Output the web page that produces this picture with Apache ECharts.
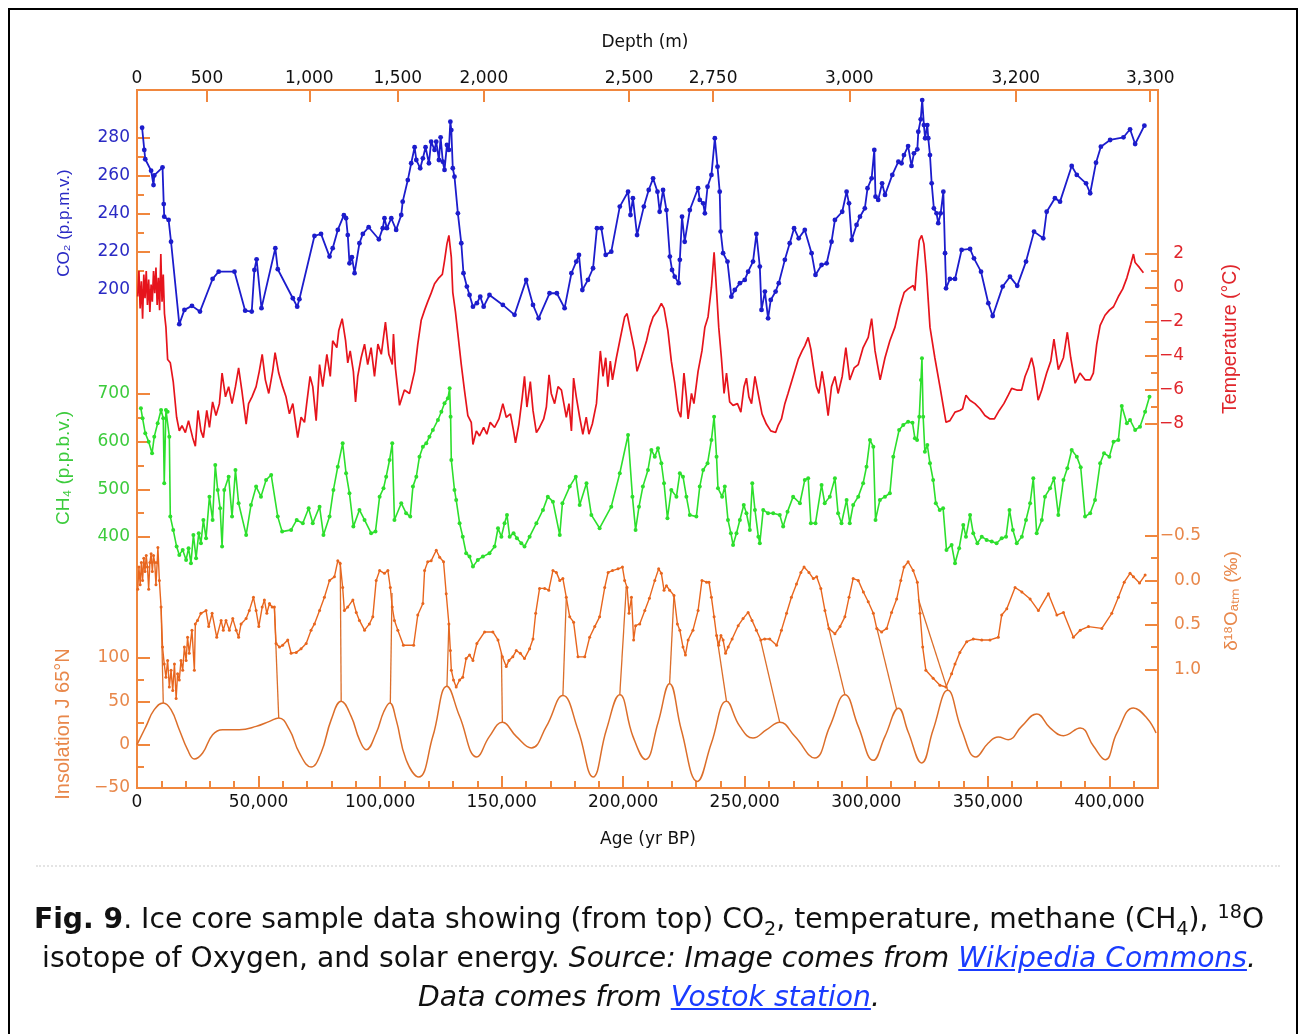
<!DOCTYPE html>
<html><head><meta charset="utf-8">
<script src="https://cdn.jsdelivr.net/npm/echarts@6/dist/echarts.min.js"></script>
<style>
html,body{margin:0;padding:0;background:#fff;}
#page{position:relative;width:1298px;height:1034px;overflow:hidden;background:#fff;}
#frame{position:absolute;left:8px;top:8px;width:1290px;height:1040px;border:2px solid #000;box-sizing:border-box;}
#chart{position:absolute;left:0;top:0;width:1298px;height:1034px;}
#sep{position:absolute;left:36px;top:865px;width:1244px;border-top:2px dotted #e4e4e4;}
#caption{position:absolute;left:0;top:899px;width:1298px;text-align:center;font-family:'DejaVu Sans';font-size:28.2px;line-height:39px;color:#111;}
#caption a{color:#1a3cff;text-decoration:underline;}
#caption sub,#caption sup{font-size:0.68em;line-height:0;}
</style></head>
<body>
<div id="page">
<div id="frame"></div>
<div id="chart"></div>
<div id="sep"></div>
<div id="caption"><b>Fig. 9</b>. Ice core sample data showing (from top) CO<sub>2</sub>, temperature, methane (CH<sub>4</sub>), <sup>18</sup>O<br>isotope of Oxygen, and solar energy. <i>Source: Image comes from <a>Wikipedia Commons</a>.</i><br><i>Data comes from <a>Vostok station</a>.</i></div>
</div>
<script>
// ---- data: [age (kyr BP), value] ----
const co2Data = [[2.1,285],[3.0,273.4],[3.4,268.5],[5.8,262.5],[6.8,255],[7.1,260],[10.5,264.3],[11.0,245],[11.2,238.4],[13.0,236.7],[14.0,225.3],[17.4,182.1],[19.5,189.6],[22.6,191.7],[25.9,188.7],[31.1,205.8],[33.6,209.6],[40.1,209.6],[44.5,189.2],[47.2,188.7],[48.3,210.5],[49.2,216.1],[51.2,190.5],[56.9,221.9],[57.9,210.9],[64.1,195.7],[65.9,191.3],[66.8,195.2],[73.0,228.3],[75.7,229.4],[79.2,217.5],[80.5,221.9],[82.6,231.5],[85.1,239.2],[86.0,237.6],[86.7,228.8],[87.4,214],[88.4,217.2],[89.5,208.8],[91.5,224.5],[92.9,229.4],[95.3,232.9],[99.5,226.6],[101.1,232.4],[101.8,237.6],[102.8,232.4],[104.6,237.6],[106.6,231.5],[108.7,239.3],[109.3,246.3],[111.4,257.6],[112.8,266.4],[114.2,274.8],[114.9,268.1],[116.5,263.8],[117.6,269],[118.7,274.8],[120.1,266.4],[121.0,277.7],[122.4,273.4],[123.1,277.7],[124.2,268.1],[124.9,280],[125.8,267.2],[126.5,262.9],[127.5,276],[128.3,273.4],[128.9,288.2],[129.3,283.8],[129.9,263.8],[130.6,259.4],[132.0,240.2],[133.4,224.5],[134.3,208.8],[135.7,201.8],[136.8,197.4],[138.2,191.3],[139.8,193.1],[141.2,196.5],[142.6,191.3],[145.0,197.4],[150.5,192.2],[155.3,187],[160.1,205.3],[162.9,192.2],[165.2,185.2],[169.7,198.3],[172.7,198.3],[175.9,190.5],[178.7,208.8],[180.7,214.9],[181.8,218.4],[183.2,200],[185.5,205.3],[187.6,211.4],[189.2,232.4],[191.0,232.4],[192.8,218.4],[195.1,220.1],[198.6,243.7],[202.0,251.5],[203.0,239.3],[204.0,248.1],[205.7,228.8],[208.5,243.7],[210.5,252.4],[212.3,258.5],[214.1,251.5],[215.0,241],[216.4,252.4],[217.8,241.9],[219.2,217.5],[220.1,210.5],[221.2,207],[222.8,203.6],[223.3,215.8],[224.2,238.4],[225.3,225.3],[227.4,241.9],[230.8,253.3],[231.5,247.2],[232.9,245.4],[233.6,240.2],[234.7,254.1],[236.3,260.3],[237.7,279.5],[238.8,264.6],[239.7,251.5],[240.1,230.6],[241.1,219.3],[242.9,214.9],[244.5,196.5],[245.9,200],[248.0,203.6],[250.0,205.3],[251.4,209.6],[253.4,214.9],[254.8,229.4],[256.2,212.3],[256.9,189.6],[258.3,199.2],[259.6,185.2],[260.7,194.8],[262.7,199.2],[264.0,203.6],[266.5,215.8],[268.5,224.5],[270.3,232.4],[272.2,227.1],[274.7,231.5],[277.5,219.3],[279.1,207.9],[281.6,213.1],[283.7,214],[285.7,225.3],[287.1,236.7],[290.1,241],[291.9,251.5],[292.9,245.4],[294.0,226.2],[296.0,234.1],[297.4,238.4],[299.4,242.8],[300.5,253.3],[302.2,258.5],[303.3,273.4],[303.8,248.9],[304.9,247.2],[306.5,255.9],[307.7,249.8],[310.7,260.3],[313.2,267.2],[314.5,266.4],[315.5,270.7],[317.2,275.4],[318.6,265],[319.6,271.6],[321.0,273.7],[321.4,282.9],[322.4,289.4],[323.0,299.5],[323.7,286.4],[324.2,279.5],[325.1,286.4],[325.5,279.5],[326.2,270.7],[326.9,255.9],[327.8,242.8],[328.9,240.2],[329.6,235],[330.6,240.2],[331.7,251.5],[332.4,219.3],[332.8,200.9],[334.4,205.8],[336.5,205.8],[339.2,221],[342.7,221.5],[344.3,216.6],[347.2,209.6],[350.2,193.1],[352.0,186.4],[356.1,201.8],[359.1,207],[362.1,202.2],[365.7,214.9],[369.0,230.6],[372.8,227.1],[374.2,241],[377.6,248.1],[379.7,246.3],[384.5,265],[386.6,260.3],[390.4,255.9],[392.1,250.7],[394.5,266.7],[396.5,275.1],[400.3,278.6],[405.8,280],[408.5,284.2],[410.6,276.5],[414.4,286.1]];

const tempData = [[0.3,-0.5],[0.8,1.0],[1.3,-1.2],[1.8,0.4],[2.3,-1.8],[2.8,0.8],[3.3,-0.6],[3.8,1.0],[4.3,-1.0],[4.8,0.5],[5.3,-1.4],[5.8,0.2],[6.3,-0.8],[6.8,1.0],[7.3,-0.3],[7.8,1.2],[8.3,-1.0],[8.8,0.6],[9.3,-1.3],[9.8,2.0],[10.3,-0.8],[10.8,0.8],[11.3,-1.5],[11.9,-2.3],[12.6,-4.2],[13.7,-4.4],[14.9,-5.5],[16.3,-7.6],[17.4,-8.4],[18.5,-8.1],[19.9,-8.5],[21.2,-7.8],[22.9,-8.8],[24.0,-9.3],[25.1,-7.2],[26.3,-8.4],[27.3,-8.8],[28.7,-7.2],[29.8,-8.2],[31.1,-6.7],[32.5,-7.5],[33.9,-6.8],[35.0,-5.0],[36.4,-6.4],[37.7,-5.8],[39.1,-6.8],[40.5,-5.8],[41.8,-4.7],[43.2,-6.1],[44.9,-8.0],[45.9,-6.8],[47.3,-6.4],[49.0,-5.8],[50.3,-4.9],[51.5,-3.9],[52.8,-5.4],[54.2,-6.2],[55.8,-4.9],[56.8,-3.8],[58.3,-5.0],[59.9,-5.8],[61.3,-6.4],[62.7,-7.4],[64.1,-6.8],[65.5,-8.2],[66.1,-8.8],[67.5,-7.6],[68.9,-7.9],[69.8,-6.8],[71.2,-5.2],[72.3,-5.8],[73.7,-7.8],[75.1,-4.5],[76.4,-5.8],[78.1,-3.9],[79.5,-5.2],[80.5,-3.1],[82.2,-3.5],[83.0,-2.5],[84.4,-1.8],[85.8,-3.1],[86.7,-4.4],[87.7,-3.7],[89.0,-4.9],[89.9,-6.7],[90.8,-5.2],[92.2,-4.1],[93.6,-3.3],[94.9,-4.5],[96.3,-3.5],[97.7,-5.2],[99.1,-3.3],[100.5,-3.9],[102.2,-2.0],[103.6,-3.9],[104.1,-4.1],[105.0,-4.5],[105.5,-2.7],[106.3,-4.7],[108.0,-6.9],[110.0,-6.0],[112.1,-6.2],[114.2,-4.9],[115.5,-3.3],[116.9,-1.9],[118.3,-1.3],[119.6,-0.8],[121.0,-0.3],[122.4,0.25],[124.2,0.6],[125.6,0.8],[126.5,1.6],[127.5,2.6],[128.3,3.1],[129.3,1.8],[129.9,-0.25],[131.0,-1.4],[132.0,-2.7],[133.4,-4.5],[134.7,-6.0],[136.1,-7.5],[137.5,-7.9],[138.2,-9.2],[139.6,-8.4],[140.9,-8.7],[142.6,-8.2],[143.9,-8.6],[145.3,-7.9],[147.1,-8.2],[148.9,-7.7],[150.5,-6.8],[151.9,-7.6],[153.6,-7.4],[154.9,-8.4],[155.7,-9.1],[157.1,-8.0],[158.5,-6.4],[159.4,-5.2],[160.4,-7.0],[161.8,-5.5],[162.9,-7.2],[164.3,-8.5],[165.6,-8.2],[167.3,-7.7],[168.4,-7.0],[169.5,-5.1],[170.4,-6.2],[171.8,-6.8],[173.2,-5.8],[174.6,-6.0],[175.6,-6.8],[176.6,-7.6],[177.7,-6.8],[178.7,-8.4],[179.6,-5.3],[180.7,-6.4],[182.1,-7.6],[183.4,-8.6],[184.8,-7.6],[185.9,-8.6],[187.3,-8.0],[189.0,-6.8],[190.6,-3.7],[191.7,-5.2],[192.8,-4.1],[193.7,-5.8],[194.7,-4.3],[195.6,-5.4],[197.2,-4.1],[198.6,-3.1],[200.6,-1.7],[201.6,-1.5],[202.7,-2.3],[204.7,-3.7],[205.7,-4.9],[207.5,-4.1],[209.6,-3.1],[210.9,-2.3],[212.3,-1.7],[214.3,-1.3],[215.7,-0.9],[216.8,-1.2],[218.4,-2.5],[219.8,-4.3],[221.2,-5.6],[222.6,-7.2],[223.7,-7.6],[225.0,-5.0],[226.0,-6.4],[226.7,-7.7],[228.1,-6.2],[229.1,-6.8],[230.8,-4.9],[232.4,-3.7],[233.6,-2.3],[234.9,-1.7],[236.3,0.05],[237.4,2.1],[238.4,-0.15],[239.3,-2.3],[240.4,-4.1],[241.5,-6.2],[242.5,-5.0],[243.8,-6.7],[245.2,-6.9],[247.0,-6.8],[248.4,-7.3],[249.7,-5.8],[250.7,-5.3],[251.7,-6.4],[252.8,-6.8],[254.2,-5.2],[255.5,-6.2],[257.1,-7.4],[258.9,-8.0],[260.7,-8.4],[262.7,-8.5],[263.7,-8.1],[265.1,-7.7],[266.5,-6.8],[267.8,-6.2],[269.9,-5.2],[272.0,-4.2],[273.6,-3.7],[274.7,-3.4],[276.1,-2.9],[277.2,-3.6],[278.1,-4.5],[279.5,-5.8],[280.5,-6.2],[281.8,-4.9],[282.9,-5.9],[284.3,-7.5],[285.7,-5.8],[287.1,-5.2],[288.4,-6.2],[290.1,-5.2],[291.6,-3.5],[293.2,-5.4],[295.0,-4.7],[296.7,-4.5],[298.7,-3.5],[300.8,-2.9],[302.2,-1.8],[303.6,-3.7],[305.7,-5.4],[307.7,-4.1],[309.7,-3.1],[311.8,-2.3],[313.8,-1.1],[315.6,-0.25],[317.2,-0.05],[319.3,0.15],[320.0,-0.15],[320.7,1.2],[321.8,2.8],[322.8,3.1],[323.7,2.6],[324.8,0.8],[326.2,-2.3],[328.2,-4.1],[330.3,-5.8],[332.8,-7.9],[334.4,-7.8],[336.5,-7.3],[338.5,-7.2],[339.6,-7.1],[341.0,-6.3],[342.6,-6.6],[344.7,-6.8],[346.8,-7.1],[348.8,-7.5],[350.9,-7.7],[352.7,-7.7],[354.7,-7.2],[356.6,-6.8],[358.4,-6.3],[359.8,-5.9],[361.9,-6.0],[363.9,-6.0],[365.3,-5.2],[366.7,-4.7],[368.0,-4.1],[369.0,-4.7],[370.7,-6.6],[372.2,-6.0],[374.2,-5.0],[375.9,-4.3],[377.2,-3.0],[379.0,-4.8],[381.1,-4.1],[382.7,-2.6],[384.1,-4.1],[385.9,-5.6],[387.9,-5.0],[390.0,-5.4],[392.1,-5.4],[393.4,-5.0],[394.8,-3.3],[396.2,-2.2],[398.2,-1.6],[400.0,-1.3],[401.7,-1.1],[403.7,-0.5],[405.5,-0.05],[407.2,0.6],[408.8,1.4],[409.9,2.0],[410.6,1.5],[412.4,1.2],[414.0,0.9]];

const ch4Data = [[1.6,670],[2.3,649],[3.4,617.6],[4.8,600],[6.2,575.7],[7.1,610.5],[8.5,638.6],[9.9,666.5],[10.8,649],[11.2,512.8],[11.9,666.5],[12.6,663],[13.3,610.5],[13.7,442.8],[14.9,414.9],[16.3,380],[17.4,362.5],[18.8,373],[20.2,352],[21.2,376.5],[22.2,345],[23.2,404.4],[24.3,355.6],[25.4,408],[26.3,387],[27.3,435.8],[28.4,397.5],[29.8,484.7],[31.1,435.8],[32.2,551],[33.2,498.7],[34.2,460.4],[35.0,380],[35.9,498.7],[37.7,526.6],[39.1,442.8],[40.5,540.7],[41.8,470.9],[44.9,404.4],[46.9,467.3],[49.0,505.7],[51.0,484.7],[53.1,519.7],[55.2,530.2],[57.9,442.8],[59.7,411.3],[63.4,414.9],[65.7,435.8],[68.2,428.9],[70.6,460.4],[72.3,428.9],[75.1,463.7],[76.7,404.4],[79.2,442.8],[80.8,498.7],[82.6,547.6],[84.6,596.6],[86.0,533.8],[87.4,491.8],[89.0,421.8],[91.5,456.8],[93.6,435.8],[96.3,408],[98.1,411.3],[99.8,484.7],[101.4,502.3],[102.5,526.6],[103.9,561.6],[105.0,596.6],[105.9,435.8],[108.7,470.9],[110.7,449.9],[112.4,442.8],[113.5,505.7],[114.9,526.6],[116.2,568.6],[117.6,589.5],[119.0,596.6],[120.3,610.5],[121.7,624.5],[123.8,645.5],[125.2,662.9],[126.5,680.5],[127.9,691],[128.6,712],[129.0,652.4],[129.3,561.6],[130.6,498.7],[131.3,477.8],[132.7,428.9],[134.0,400.8],[135.4,366],[136.8,358.9],[138.2,337.9],[140.2,352],[142.3,358.9],[145.0,366],[147.1,380],[148.5,418.4],[149.9,400.8],[151.2,428.9],[152.2,446.3],[153.3,400.8],[154.9,408],[156.3,397.5],[158.1,387],[159.4,380],[161.5,400.8],[164.3,428.9],[167.0,456.8],[169.0,484.7],[171.1,474.2],[173.9,404.4],[175.0,470.9],[178.0,505.7],[180.5,526.6],[182.1,467.3],[184.9,512.8],[186.9,446.3],[190.3,418.4],[195.1,463.7],[198.6,533.8],[202.0,614],[203.8,484.7],[205.1,414.9],[206.5,463.7],[208.1,505.7],[210.2,540.7],[211.6,582.6],[213.0,568.6],[214.3,586.2],[215.7,554.7],[216.8,512.8],[218.2,439.4],[219.8,498.7],[221.9,484.7],[223.3,533.8],[224.6,526.6],[226.0,484.7],[227.4,446.3],[230.1,442.8],[231.5,505.7],[232.9,540.7],[234.7,554.7],[236.3,603.6],[237.4,652.4],[238.4,568.6],[239.0,502.3],[240.7,484.7],[241.8,505.7],[243.1,435.8],[244.3,408],[245.2,383.4],[246.6,408],[248.0,435.8],[249.6,467.3],[250.7,449.9],[252.1,414.9],[253.1,512.8],[254.2,456.8],[255.6,400.8],[256.2,387],[257.6,456.8],[259.6,449.9],[261.7,449.9],[264.4,446.3],[265.8,421.8],[267.6,453.2],[269.9,484.7],[272.7,470.9],[274.7,519.7],[276.1,523.3],[277.2,428.9],[279.1,428.9],[281.6,509.2],[282.9,470.9],[285.0,484.7],[287.1,523.3],[288.4,449.9],[289.8,428.9],[291.9,477.8],[293.2,428.9],[294.6,467.3],[296.7,484.7],[298.7,512.8],[300.1,547.6],[301.5,603.6],[302.9,589.5],[303.8,435.8],[305.6,477.8],[307.7,484.7],[309.7,491.8],[311.1,568.6],[313.5,624.5],[315.2,635],[317.2,641.9],[319.0,639.8],[320.0,607.1],[320.9,603.6],[321.8,652.4],[322.5,729.4],[322.9,774.8],[323.4,652.4],[324.1,579],[325.1,593],[326.2,554.7],[327.5,519.7],[328.6,470.9],[330.2,456.8],[331.6,460.4],[333.0,373],[335.1,383.4],[336.5,345],[338.2,376.5],[339.9,425.4],[341.0,400.8],[342.7,446.3],[344.0,408],[345.7,387],[347.5,400.8],[349.5,393.9],[351.6,390.4],[353.6,387],[355.7,397.5],[357.5,400.8],[358.9,456.8],[360.3,414.9],[361.9,387],[364.0,400.8],[365.7,435.8],[367.4,470.9],[368.7,523.3],[370.1,408],[372.2,435.8],[373.5,484.7],[375.6,502.3],[377.2,523.3],[379.0,446.3],[381.1,519.7],[382.7,544.2],[384.5,582.6],[386.6,568.6],[388.2,546.3],[390.0,442.8],[392.1,449.9],[394.1,477.8],[396.2,554.7],[397.8,575.7],[400.0,568.6],[401.7,600],[403.7,603.6],[405.1,674.8],[407.2,638.6],[408.5,645.5],[410.6,624.5],[412.6,631.5],[414.7,662.9],[416.5,694.3]];

const d18oData = [[0.3,0.1],[0.8,-0.15],[1.3,0.05],[1.8,-0.2],[2.3,0.0],[2.8,-0.25],[3.3,-0.1],[3.8,-0.28],[4.3,-0.15],[4.8,0.1],[5.3,-0.2],[5.8,-0.3],[6.3,-0.1],[6.8,-0.28],[7.3,-0.2],[7.8,0.05],[8.3,-0.2],[8.6,-0.37],[9.2,0.0],[9.9,0.3],[10.5,0.75],[11.2,0.94],[11.9,1.09],[12.6,0.90],[13.3,1.2],[14.0,1.01],[14.7,1.24],[15.4,0.94],[16.1,1.33],[16.7,1.05],[17.4,1.12],[18.1,0.90],[18.8,1.01],[19.5,0.75],[20.2,0.90],[20.8,0.64],[21.5,0.82],[22.6,0.56],[23.6,1.01],[24.0,0.49],[24.9,0.45],[26.3,0.37],[28.4,0.34],[29.5,0.52],[30.9,0.37],[32.8,0.64],[34.6,0.45],[35.5,0.56],[36.6,0.45],[38.0,0.56],[39.4,0.43],[40.8,0.56],[41.8,0.64],[42.8,0.49],[44.9,0.43],[46.2,0.34],[47.9,0.19],[49.0,0.34],[50.1,0.52],[51.5,0.30],[52.4,0.22],[53.4,0.37],[54.5,0.26],[55.6,0.30],[56.5,0.30],[57.2,0.71],[58.6,0.75],[59.9,0.73],[62.0,0.67],[63.4,0.82],[65.5,0.81],[67.5,0.77],[69.6,0.71],[71.6,0.56],[73.0,0.49],[75.1,0.34],[77.1,0.19],[79.2,0.0],[81.2,-0.04],[82.6,-0.22],[83.6,-0.19],[84.6,0.08],[85.3,0.34],[86.7,0.30],[88.8,0.22],[90.2,0.36],[91.5,0.45],[93.6,0.56],[95.6,0.49],[97.0,0.41],[98.4,0.0],[99.8,-0.11],[101.8,-0.08],[103.2,-0.11],[104.2,0.08],[105.0,0.30],[105.9,0.45],[107.3,0.56],[109.6,0.73],[113.8,0.73],[115.5,0.39],[117.6,0.26],[118.3,-0.11],[119.6,-0.21],[121.0,-0.22],[123.1,-0.34],[124.5,-0.26],[126.1,-0.21],[127.2,0.15],[128.3,0.49],[128.9,0.79],[129.3,1.01],[130.2,1.12],[131.3,1.2],[132.7,1.12],[134.0,1.09],[135.4,0.88],[136.8,0.84],[138.2,0.90],[139.8,0.71],[143.0,0.58],[146.4,0.58],[148.5,0.67],[150.3,0.86],[151.9,0.97],[153.0,0.90],[154.6,0.86],[156.0,0.79],[157.7,0.82],[159.4,0.88],[161.5,0.77],[162.9,0.66],[164.0,0.37],[165.6,0.09],[167.7,0.09],[169.4,0.11],[171.1,-0.11],[172.5,-0.09],[173.9,0.0],[175.2,-0.02],[176.6,0.19],[178.0,0.41],[179.6,0.47],[181.4,0.86],[184.2,0.86],[186.2,0.64],[188.3,0.52],[190.3,0.41],[192.4,0.08],[193.8,-0.09],[195.6,-0.11],[197.9,-0.13],[199.7,-0.15],[200.6,0.0],[201.6,0.08],[202.4,0.37],[203.4,0.19],[204.3,0.67],[205.1,0.51],[206.8,0.49],[208.9,0.34],[210.8,0.2],[213.0,0.0],[214.6,-0.13],[215.7,-0.08],[216.8,0.11],[217.8,0.06],[219.1,0.11],[220.9,0.17],[222.3,0.49],[223.3,0.56],[224.6,0.75],[225.6,0.84],[226.7,0.67],[228.7,0.56],[230.8,0.34],[232.4,0.0],[234.3,0.02],[235.3,0.02],[236.3,0.19],[237.4,0.41],[238.4,0.62],[239.3,0.73],[240.2,0.62],[241.1,0.67],[242.1,0.82],[243.2,0.75],[244.8,0.66],[247.3,0.51],[249.3,0.43],[251.4,0.36],[253.0,0.45],[254.8,0.56],[256.6,0.67],[258.2,0.66],[260.3,0.66],[263.1,0.73],[265.1,0.56],[267.2,0.37],[269.2,0.19],[271.3,0.04],[273.1,-0.09],[274.4,-0.15],[276.4,-0.09],[278.2,-0.02],[279.6,-0.04],[281.3,0.09],[283.0,0.34],[284.6,0.54],[287.1,0.60],[289.2,0.52],[291.2,0.41],[292.9,0.19],[294.6,-0.02],[296.7,0.0],[298.8,0.13],[300.8,0.24],[302.9,0.37],[304.3,0.54],[306.3,0.58],[308.4,0.54],[310.4,0.36],[312.5,0.21],[314.2,0.0],[315.5,-0.15],[317.2,-0.21],[319.3,-0.11],[321.0,0.02],[322.1,0.37],[323.2,0.75],[324.5,1.01],[327.5,1.10],[330.3,1.18],[332.8,1.20],[335.1,1.05],[336.5,0.94],[338.5,0.81],[341.3,0.69],[344.0,0.66],[347.5,0.67],[350.9,0.67],[354.3,0.64],[355.7,0.39],[357.8,0.32],[361.2,0.08],[364.0,0.13],[367.4,0.21],[370.8,0.34],[374.9,0.15],[378.4,0.39],[381.1,0.36],[385.2,0.64],[388.0,0.56],[391.4,0.52],[396.9,0.54],[401.0,0.37],[403.7,0.19],[406.1,0.02],[408.5,-0.08],[409.9,-0.04],[412.4,0.03],[414.7,-0.06]];

const insolData = [[0,0],[3.7,21.1],[7.1,40.4],[10.8,48.2],[14.0,40.4],[17.4,17.3],[20.8,-5.8],[23.6,-16.5],[27.0,-9.6],[31.1,11.5],[35.2,17.3],[42.1,17.3],[49.0,21.1],[54.5,26.9],[58.3,30.8],[62.7,17.3],[66.8,-9.6],[71.6,-25.8],[75.7,-9.6],[79.9,28.9],[84.0,50.0],[88.1,32.7],[91.5,5.8],[94.3,-5.8],[98.4,13.5],[101.5,38],[104.0,48.2],[106.6,28.9],[110.7,-17.3],[115.9,-37.3],[121.7,9.6],[127.5,67.3],[132.7,32.7],[139.8,-14.2],[145.0,9.6],[150.3,25.8],[156.0,9.6],[162.2,-3.8],[168.4,21.1],[175.2,56.6],[181.4,17.3],[187.6,-37.3],[193.1,17.3],[198.6,57.7],[204.0,9.6],[209.2,-17],[214.3,25.1],[219.1,70.4],[223.9,17.3],[230.5,-42.4],[236.3,2.0],[242.5,50.0],[248.0,21.1],[253.4,7.7],[259.0,17.3],[264.4,25.8],[270.6,9.6],[278.8,-15.4],[285.0,21.1],[291.2,57.7],[296.7,21.1],[302.9,-18.1],[307.7,9.6],[313.3,42],[317.2,15],[322.8,-21.1],[327.5,17.3],[333.5,62.7],[339.2,17.3],[345.1,-14.2],[350.2,2.0],[354.3,8.9],[358.4,5.8],[363.9,21.1],[370.1,35.4],[375.6,19.3],[381.1,10.4],[388.0,19.3],[393.5,-1.9],[398.3,-17.3],[403.1,13.5],[409.9,42.4],[415.4,30.8],[419.2,13.5]];

// tie lines from d18O features down to insolation peaks (in insolation units)
const tieLines = [[[9.9,159.7],[10.8,48.2]],[[56.5,159.7],[58.3,30.8]],[[83.6,211],[84.0,50]],[[104.9,175],[104.2,48.2]],[[128.3,140.2],[127.5,67.3]],[[149.9,106],[150.3,25.8]],[[176.6,170],[175.2,56.6]],[[201.3,183],[198.6,57.7]],[[220.9,173.2],[219.1,70.4]],[[238.4,127],[242.5,50]],[[256.5,121],[264.4,25.8]],[[284.1,140],[291.2,57.7]],[[304.3,135],[312.5,41]],[[321.4,168],[333.5,62.7]]];

// ---- tick labels ----
const ageTicks = [0,50,100,150,200,250,300,350,400];
const ageMinorTicks = [10,20,30,40,60,70,80,90,110,120,130,140,160,170,180,190,210,220,230,240,260,270,280,290,310,320,330,340,360,370,380,390,410];
const depthLabels = ['0','500','1,000','1,500','2,000','2,500','2,750','3,000','3,200','3,300'];
const depthAges = [0,28.8,70.9,107.3,142.7,202.4,237.0,293.0,361.5,416.8];
const co2Ticks = [200,220,240,260,280];
const co2Minor = [210,230,250,270];
const ch4Ticks = [400,500,600,700];
const ch4Minor = [450,550,650];
const insolTicks = [-50,0,50,100];
const insolMinor = [-25,25,75];
const tempTicks = [-8,-6,-4,-2,0,2];
const tempMinor = [-7,-5,-3,-1,1];
const d18oTicks = [-0.5,0,0.5,1.0];
const d18oMinor = [-0.25,0.25,0.75];

const FRAME = '#f0873e';
const C_CO2 = '#1c1ccc', C_TEMP = '#e6141c', C_CH4 = '#2ddf2d', C_D18O = '#e8661e', C_INS = '#dc6e2a';
const L_CO2 = '#2a2ac4', L_TEMP = '#e0262c', L_CH4 = '#3ccb3c', L_OR = '#e8874a';
const FONT = 'DejaVu Sans';
const INK = '#111';

const minus = v => (v < 0 ? '\u2212' + Math.abs(v) : String(v));

function yAx(o) {
  return {
    type: 'value', position: o.pos, min: o.min, max: o.max, inverse: !!o.inverse,
    axisLine: {show: false, onZero: false}, splitLine: {show: false},
    axisTick: {show: true, inside: true, length: o.len, customValues: o.ticks, lineStyle: {color: FRAME, width: 2}},
    axisLabel: o.labels ? {
      show: true, customValues: o.labels, formatter: o.fmt, color: o.color,
      fontFamily: FONT, fontSize: 17, margin: o.margin, align: o.align,
      showMinLabel: true, showMaxLabel: true
    } : {show: false}
  };
}

const yAxes = [
  yAx({pos:'left', min:-60.86, max:304.78, ticks:co2Ticks, len:13, labels:co2Ticks, fmt: v=>String(v), color:L_CO2, margin:7, align:'right'}),
  yAx({pos:'left', min:-60.86, max:304.78, ticks:co2Minor, len:7}),
  yAx({pos:'left', min:-126.5, max:1337.7, ticks:ch4Ticks, len:13, labels:ch4Ticks, fmt: v=>String(v), color:L_CH4, margin:7, align:'right'}),
  yAx({pos:'left', min:-126.5, max:1337.7, ticks:ch4Minor, len:7}),
  yAx({pos:'left', min:-50, max:755.4, ticks:[0,50,100], len:13, labels:insolTicks, fmt: minus, color:L_OR, margin:7, align:'right'}),
  yAx({pos:'left', min:-50, max:755.4, ticks:insolMinor, len:7}),
  yAx({pos:'right', min:-29.41, max:11.65, ticks:tempTicks, len:13, labels:tempTicks, fmt: minus, color:L_TEMP, margin:26, align:'right'}),
  yAx({pos:'right', min:-29.41, max:11.65, ticks:tempMinor, len:7}),
  yAx({pos:'right', min:-5.518, max:2.336, inverse:true, ticks:d18oTicks, len:13, labels:d18oTicks, fmt: v => (v<0?'\u2212':'') + Math.abs(v).toFixed(1), color:L_OR, margin:43, align:'right'}),
  yAx({pos:'right', min:-5.518, max:2.336, inverse:true, ticks:d18oMinor, len:7})
];

const xAxes = [
  {type:'value', position:'bottom', min:0, max:420, axisLine:{show:false, onZero:false}, splitLine:{show:false},
   axisTick:{show:true, inside:true, length:12, customValues: ageTicks.filter(v=>v>0), lineStyle:{color:FRAME, width:2}},
   axisLabel:{customValues: ageTicks, formatter: v => (Math.round(v*1000)).toLocaleString('en-US'), color:INK, fontFamily:FONT, fontSize:17, margin:6, showMinLabel:true, showMaxLabel:true}},
  {type:'value', position:'bottom', min:0, max:420, axisLine:{show:false, onZero:false}, splitLine:{show:false},
   axisTick:{show:true, inside:true, length:7, customValues: ageMinorTicks, lineStyle:{color:FRAME, width:2}},
   axisLabel:{show:false}},
  {type:'value', position:'top', min:0, max:420, axisLine:{show:false, onZero:false}, splitLine:{show:false},
   axisTick:{show:true, inside:true, length:12, customValues: depthAges.filter(v=>v>0), lineStyle:{color:FRAME, width:2}},
   axisLabel:{customValues: depthAges, formatter: v => { const i = depthAges.indexOf(v); return i >= 0 ? depthLabels[i] : ''; }, color:INK, fontFamily:FONT, fontSize:17, margin:3, showMinLabel:true, showMaxLabel:true}}
];

const lineS = (name, data, yi, color, width, sym, z) => ({
  name, type:'line', data, xAxisIndex:0, yAxisIndex:yi, z: z,
  symbol: sym ? 'circle' : 'none', symbolSize: sym || 0, showSymbol: !!sym, showAllSymbol: true,
  lineStyle:{color, width}, itemStyle:{color}, animation:false, silent:true
});

const series = [
  lineS('Insolation', insolData, 4, C_INS, 1.5, 0, 2),
  {type:'lines', coordinateSystem:'cartesian2d', xAxisIndex:0, yAxisIndex:4, z:2,
   data: tieLines.map(c => ({coords: c})), lineStyle:{color:C_INS, width:1.3, opacity:1}, animation:false, silent:true},
  lineS('d18O', d18oData, 8, C_D18O, 1.4, 3, 3),
  lineS('CH4', ch4Data, 2, C_CH4, 1.6, 4, 3),
  lineS('Temperature', tempData, 6, C_TEMP, 1.7, 0, 3),
  lineS('CO2', co2Data, 0, C_CO2, 1.8, 4.8, 4)
];
series[0].smooth = 0.45;

const rotText = (text, x, y, color, size) => ({
  type:'text', x, y, rotation: Math.PI/2, z: 10,
  style:{text, fill: color, font: size + 'px "Liberation Sans", Arial, sans-serif', align:'center', verticalAlign:'middle'}
});

const chart = echarts.init(document.getElementById('chart'), null, {renderer:'canvas'});
chart.setOption({
  animation:false,
  backgroundColor:'transparent',
  grid:{left:137, right:140, top:90, bottom:246, show:true, borderColor:FRAME, borderWidth:2, backgroundColor:'transparent', outerBoundsMode:'none'},
  xAxis: xAxes,
  yAxis: yAxes,
  series,
  graphic:[
    {type:'text', x:645, y:43, style:{text:'Depth (m)', fill:INK, font:'17px "DejaVu Sans"', align:'center', verticalAlign:'middle'}},
    {type:'text', x:648, y:840, style:{text:'Age (yr BP)', fill:INK, font:'17px "DejaVu Sans"', align:'center', verticalAlign:'middle'}},
    rotText('CO\u2082 (p.p.m.v.)', 64, 223, L_CO2, 17),
    rotText('CH\u2084 (p.p.b.v.)', 64, 468, L_CH4, 19),
    rotText('Insolation J 65\u00B0N', 63, 724, L_OR, 20),
    rotText('Temperature (\u00B0C)', 1231, 339, L_TEMP, 19.5),
    rotText('\u03B4\u00B9\u2078O\u2090\u209C\u2098 (\u2030)', 1232, 601, L_OR, 19)
  ]
});
</script>
</body></html>
